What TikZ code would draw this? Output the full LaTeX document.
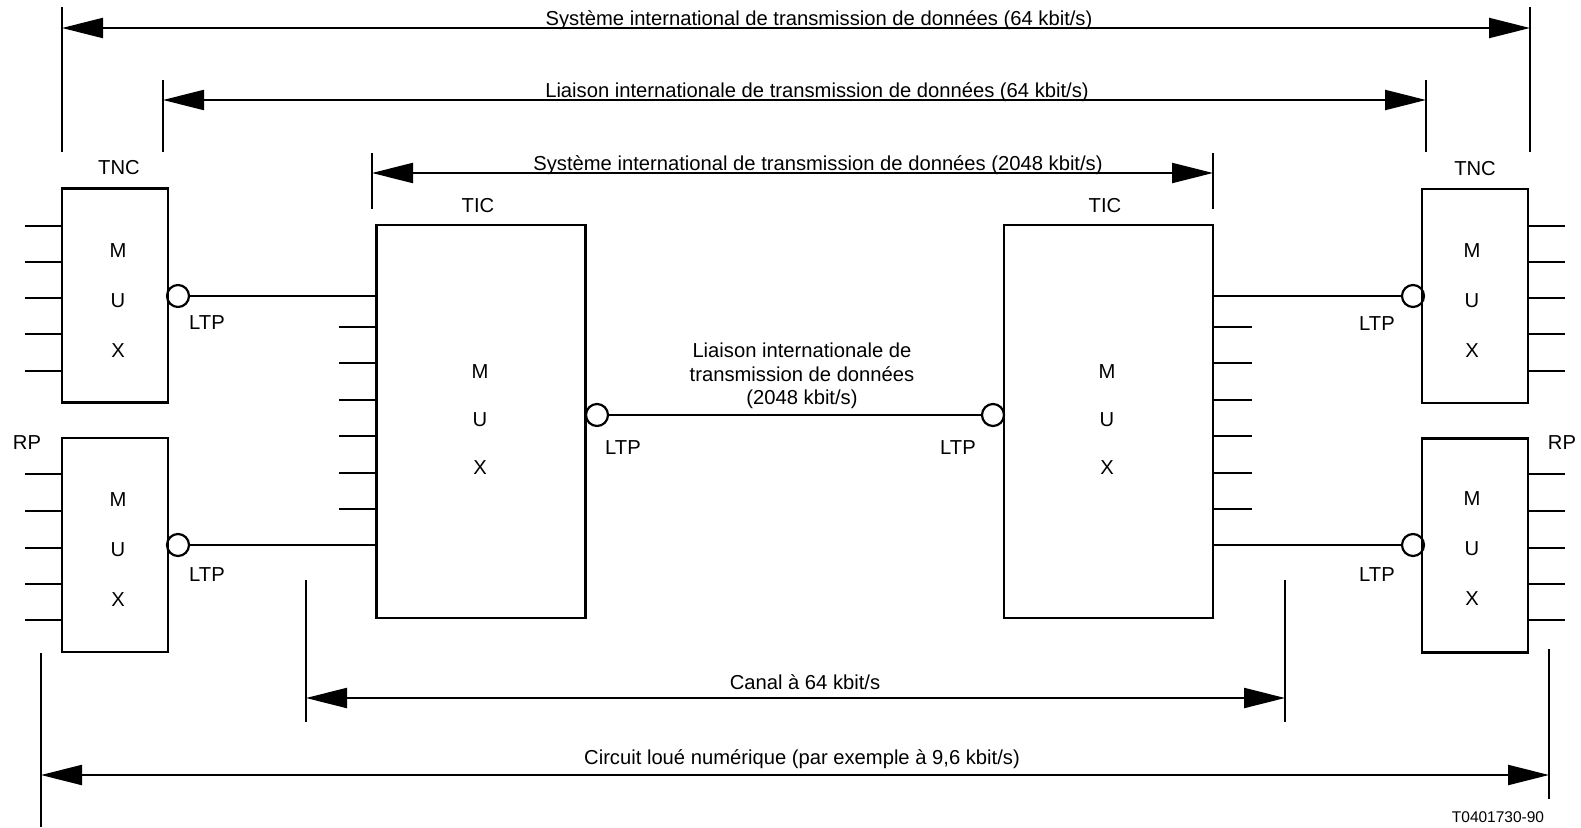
\documentclass[tikz,border=0pt]{standalone}
\usepackage{fontspec}
\setmainfont{Liberation Sans}
\usetikzlibrary{arrows.meta}
\begin{document}
\begin{tikzpicture}[x=1pt,y=-1pt,
  wire/.style={line width=2.2pt},
  smallbox/.style={draw, line width=2.4pt, minimum width=106pt, minimum height=214pt, inner sep=0pt},
  bigbox/.style={draw, line width=2.4pt, minimum width=209pt, minimum height=393pt, inner sep=0pt},
  port/.style={circle, draw, line width=2.2pt, minimum size=22pt, inner sep=0pt},
  txt/.style={font=\fontsize{20.2}{23.5}\selectfont, inner sep=0pt},
  muxs/.style={font=\fontsize{20.2}{50}\selectfont, align=center, inner sep=0pt},
  muxb/.style={font=\fontsize{20.2}{48}\selectfont, align=center, inner sep=0pt},
  dim/.style={line width=2.2pt, {Triangle[length=41pt,width=20pt]}-{Triangle[length=41pt,width=20pt]}}
]
\useasboundingbox (0,0) rectangle (1581,827);

% boxes
\node[smallbox] (tncL) at (115,295.5) {};
\node[smallbox] (rpL) at (115,545) {};
\node[bigbox] (ticL) at (481,421.5) {};
\node[bigbox] (ticR) at (1108.5,421.5) {};
\node[smallbox] (tncR) at (1475,296) {};
\node[smallbox] (rpR) at (1475,545.5) {};

% MUX texts
\node[muxs] (mtncL) at (118,301) {M\\U\\X};
\node[muxs] (mrpL) at (118,550) {M\\U\\X};
\node[muxb] (mticL) at (480,420) {M\\U\\X};
\node[muxb] (mticR) at (1107,420) {M\\U\\X};
\node[muxs] (mtncR) at (1472,301) {M\\U\\X};
\node[muxs] (mrpR) at (1472,549) {M\\U\\X};

% ports
\node[port] (pL1) at (178,296) {};
\node[port] (pL2) at (178,545) {};
\node[port] (pC1) at (597,415) {};
\node[port] (pC2) at (993,415) {};
\node[port] (pR1) at (1413,296) {};
\node[port] (pR2) at (1413,545) {};

% connections
\draw[wire] (pL1) -- (ticL.west |- pL1);
\draw[wire] (pL2) -- (ticL.west |- pL2);
\draw[wire] (pC1) -- (pC2);
\draw[wire] (pR1) -- (ticR.east |- pR1);
\draw[wire] (pR2) -- (ticR.east |- pR2);

% stubs
\foreach \y in {226,262,298,334,371} {
  \draw[wire] (tncL.west |- 0,\y) -- ++(-36,0);
  \draw[wire] (tncR.east |- 0,\y) -- ++(36,0);
}
\foreach \y in {474,511,548,584,620} {
  \draw[wire] (rpL.west |- 0,\y) -- ++(-36,0);
  \draw[wire] (rpR.east |- 0,\y) -- ++(36,0);
}
\foreach \y in {327,363,400,436,473,509} {
  \draw[wire] (ticL.west |- 0,\y) -- ++(-36,0);
  \draw[wire] (ticR.east |- 0,\y) -- ++(38,0);
}

% dimension ticks
\draw[wire] (62,7) -- (62,152);
\draw[wire] (1530,7) -- (1530,152);
\draw[wire] (163,80) -- (163,152);
\draw[wire] (1426,80) -- (1426,152);
\draw[wire] (372,153) -- (372,209);
\draw[wire] (1213,153) -- (1213,209);
\draw[wire] (306,580) -- (306,722);
\draw[wire] (1285,580) -- (1285,722);
\draw[wire] (41,653) -- (41,827);
\draw[wire] (1549,649) -- (1549,799);

% dimension lines
\coordinate (d1a) at (62,28);   \coordinate (d1b) at (1530,28);
\coordinate (d2a) at (163,100); \coordinate (d2b) at (1426,100);
\coordinate (d3a) at (372,173); \coordinate (d3b) at (1213,173);
\coordinate (d4a) at (306,698); \coordinate (d4b) at (1285,698);
\coordinate (d5a) at (41,775);  \coordinate (d5b) at (1549,775);
\draw[dim] (d1a) -- (d1b);
\draw[dim] (d2a) -- (d2b);
\draw[dim] (d3a) -- (d3b);
\draw[dim] (d4a) -- (d4b);
\draw[dim] (d5a) -- (d5b);

% dimension labels
\node[txt, anchor=base] (lab1) at (819,25) {Système international de transmission de données (64 kbit/s)};
\node[txt, anchor=base] (lab2) at (817,97) {Liaison internationale de transmission de données (64 kbit/s)};
\node[txt, anchor=base] (lab3) at (818,170) {Système international de transmission de données (2048 kbit/s)};
\node[txt, anchor=base] (lab4) at (805,689) {Canal à 64 kbit/s};
\node[txt, anchor=base] (lab5) at (802,764) {Circuit loué numérique (par exemple à 9,6 kbit/s)};

% other labels
\node[txt] (tnc1) at (119,168) {TNC};
\node[txt] (tnc2) at (1475,169) {TNC};
\node[txt] (tic1) at (478,206) {TIC};
\node[txt] (tic2) at (1105,206) {TIC};
\node[txt] (rp1) at (27,443) {RP};
\node[txt] (rp2) at (1562,443) {RP};
\node[txt] (ltp1) at (207,323) {LTP};
\node[txt] (ltp2) at (207,575) {LTP};
\node[txt] (ltp3) at (623,448) {LTP};
\node[txt] (ltp4) at (958,448) {LTP};
\node[txt] (ltp5) at (1377,324) {LTP};
\node[txt] (ltp6) at (1377,575) {LTP};
\node[txt, align=center] (mid) at (802,376) {Liaison internationale de\\transmission de données\\(2048 kbit/s)};
\node[font=\fontsize{15.5}{18}\selectfont, inner sep=0pt] (code) at (1498,817) {T0401730-90};
\end{tikzpicture}
\end{document}
